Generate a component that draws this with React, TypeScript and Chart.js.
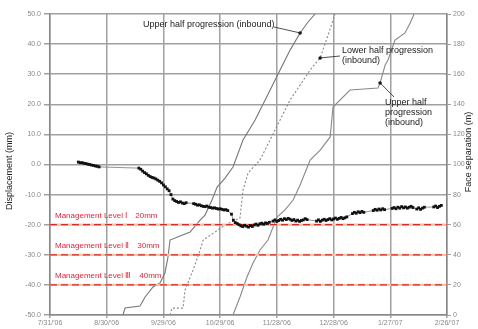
import React, { useEffect, useRef } from "react";
import { Chart, registerables } from "chart.js";

Chart.register(...registerables);

// ---- data ----
const xTickLabels = ["7/31/'06", "8/30/'06", "9/29/'06", "10/29/'06", "11/28/'06", "12/28/'06", "1/27/'07", "2/26/'07"];

const dispDays = [
  15, 16, 17, 18, 19, 20, 21, 22, 23, 24, 25, 26,
  47, 48, 49, 50, 51, 52, 53, 54, 55, 56, 57, 58, 59, 60, 61, 62, 63,
  64, 65, 66, 67, 68, 69, 70, 71, 72,
  76, 77, 78, 79, 80, 81, 82, 83, 84, 85, 86, 87, 88, 89, 90, 91, 92, 93, 94,
  96, 97, 98, 99, 100, 101, 102, 103, 104, 105, 106, 107, 108, 109, 110, 111,
  112, 113, 114, 115, 116,
  118, 119, 120, 121, 122, 123, 124, 125, 126, 127, 128, 129, 130, 131, 132, 133, 134, 135, 136,
  141, 142, 143, 144, 145, 146, 147, 148, 149, 150, 151, 152, 153, 154, 155, 156, 157,
  160, 161, 162, 163, 164, 165, 166,
  171, 172, 173, 174, 175, 176, 177,
  181, 182, 183, 184, 185, 186, 187, 188, 189, 190, 191, 192,
  194, 195, 196, 197, 198,
  203, 204, 205, 206, 207,
];
const dispValues = [
  0.8, 0.6, 0.6, 0.4, 0.3, 0.1, 0.0, -0.2, -0.3, -0.5, -0.6, -0.8,
  -1.2, -1.6, -2.2, -2.7, -3.1, -3.6, -4.0, -4.3, -4.5, -4.8, -5.2, -5.6, -6.1, -6.8, -7.4, -8.1, -8.7,
  -10.0, -11.5, -12.0, -12.3, -12.6, -12.4, -12.8, -13.0, -12.7,
  -13.0, -13.2, -13.5, -13.4, -13.7, -13.9, -14.0, -13.8, -14.2, -14.3, -14.5, -14.4, -14.6, -14.8, -14.7, -14.9, -15.1, -15.0, -15.3,
  -16.5, -18.5, -19.3, -19.6, -20.0, -20.4, -20.6, -20.2, -20.5, -20.8, -20.3, -20.6, -20.1, -19.8, -20.2, -19.7,
  -19.5, -19.8, -19.4, -19.6, -19.2,
  -18.8, -18.4, -18.9, -18.6, -18.2, -18.5, -18.0, -18.3, -17.9, -18.2, -18.6, -18.3, -18.8, -18.5, -18.9, -18.6, -18.4, -18.0, -18.3,
  -18.8, -18.4, -18.9, -18.5, -18.2, -18.6, -18.3, -18.0, -18.4, -18.1, -17.8, -18.2, -17.9, -17.6, -18.0, -17.7, -17.4,
  -16.3, -15.9, -16.2, -15.7, -16.0, -15.6, -15.9,
  -15.3, -14.9, -15.2, -14.8, -15.1, -14.7, -15.0,
  -14.6, -14.3, -14.7, -14.2, -14.5, -14.0, -14.4, -14.1, -14.5, -14.2, -13.9, -14.3,
  -14.8, -14.4, -14.9, -14.5, -14.2,
  -14.1, -13.8, -14.3, -13.9, -13.6,
];

// Upper half progression (left curve)
const upperADays = [38.6, 39.7, 47.6, 50.3, 54.5, 58.2, 60.8, 62.4, 63.5, 68.8, 74.1, 79.4, 82.0, 85.7, 88.4, 92.6, 96.8, 102.1, 108.5, 113.8, 121.7, 127.0, 132.3, 136.5, 140.2];
const upperAValues = [0, 4.6, 6, 12, 18.6, 21.3, 27.9, 38.5, 49.8, 52.5, 55.1, 63.1, 66.4, 76.4, 85.0, 91.0, 98.3, 116.3, 129.6, 142.9, 162.8, 176.0, 187.4, 194.7, 200];

// Lower half progression
const lowerDays = [63.5, 64.6, 70.4, 71.4, 75.7, 79.4, 81.0, 87.3, 92.6, 100.5, 102.1, 104.8, 111.1, 116.4, 121.7, 127.0, 132.3, 137.6, 142.9, 147.1, 150.8];
const lowerValues = [0, 4.6, 4.6, 16.6, 29.9, 43.2, 49.8, 55.1, 59.8, 64.5, 83.0, 94.4, 103.0, 116.3, 129.6, 142.9, 152.8, 162.8, 170.8, 186.0, 200];

// Upper half progression (right curve)
const upperCDays = [96.8, 100.5, 104.2, 107.4, 111.1, 115.3, 120.1, 124.3, 128.6, 132.3, 137.6, 142.9, 148.2, 149.7, 158.7, 173.5, 174.6, 177.3, 178.8, 182.5, 187.8, 190.5, 192.6];
const upperCValues = [0, 12, 25.2, 34.6, 43.2, 49.8, 65.1, 69.8, 76.4, 86.4, 103.0, 109.6, 118.3, 138.2, 149.5, 150.8, 154.2, 166.1, 169.4, 182.7, 187.4, 194.0, 200];

const mgmtLevels = [-20, -30, -40];
const mgmtLabels = ["Management Level Ⅰ\u300020mm", "Management Level Ⅱ\u300030mm", "Management Level Ⅲ\u300040mm"];

const FONT = '"Liberation Sans", Arial, sans-serif';

const pts = (xs: number[], ys: number[]) => xs.map((x, i) => ({ x, y: ys[i] }));

const annotPlugin = {
  id: "annot",
  afterDatasetsDraw(chart: any) {
    const { ctx, chartArea, scales } = chart;
    const x = scales.x, y = scales.y, y2 = scales.y2;
    ctx.save();
    // management labels
    ctx.font = `8px ${FONT}`;
    ctx.fillStyle = "#e4233c";
    ctx.textBaseline = "middle";
    ctx.textAlign = "left";
    mgmtLevels.forEach((lv, i) => {
      ctx.fillText(mgmtLabels[i], chartArea.left + 5, y.getPixelForValue(lv) - 9);
    });

    // callouts
    ctx.fillStyle = "#1a1a1a";
    ctx.font = `9px ${FONT}`;
    const callouts = [
      { lines: ["Upper half progression (inbound)"], tx: 143, ty: 25, lx: 274, ly: 27, px: upperADays[22], py: upperAValues[22] },
      { lines: ["Lower half progression", "(inbound)"], tx: 342, ty: 51, lx: 340, ly: 56, px: lowerDays[18], py: lowerValues[18] },
      { lines: ["Upper half", "progression", "(inbound)"], tx: 385, ty: 103, lx: 394, ly: 97, px: upperCDays[16], py: upperCValues[16] },
    ];
    callouts.forEach((c) => {
      c.lines.forEach((l, i) => ctx.fillText(l, c.tx, c.ty + i * 10));
      const ex = x.getPixelForValue(c.px);
      const ey = y2.getPixelForValue(c.py);
      ctx.strokeStyle = "#222";
      ctx.lineWidth = 0.8;
      ctx.beginPath();
      ctx.moveTo(c.lx, c.ly);
      ctx.lineTo(ex, ey);
      ctx.stroke();
      ctx.beginPath();
      ctx.arc(ex, ey, 1.8, 0, Math.PI * 2);
      ctx.fill();
    });

    // axis titles
    ctx.font = `9px ${FONT}`;
    ctx.fillStyle = "#222";
    ctx.textAlign = "center";
    ctx.translate(10, 171);
    ctx.rotate(-Math.PI / 2);
    ctx.fillText("Displacement (mm)", 0, 0);
    ctx.restore();
    ctx.save();
    ctx.font = `9px ${FONT}`;
    ctx.fillStyle = "#222";
    ctx.textAlign = "center";
    ctx.textBaseline = "middle";
    ctx.translate(469, 152);
    ctx.rotate(-Math.PI / 2);
    ctx.fillText("Face separation (m)", 0, 0);
    ctx.restore();
  },
};

export default function App() {
  const ref = useRef<HTMLCanvasElement>(null);
  useEffect(() => {
    document.body.style.margin = "0";
    // Chart.js draws dataset 0 last (on top), so list top-most first.
    const mgmtSets: any[] = [];
    mgmtLevels.forEach((lv) => {
      const d = [{ x: 0, y: lv }, { x: 210, y: lv }];
      mgmtSets.push({ data: d, yAxisID: "y", borderColor: "#d92a2a", borderWidth: 1.2, borderDash: [7, 4], pointRadius: 0 });
      mgmtSets.push({ data: d, yAxisID: "y", borderColor: "#f0c4a2", borderWidth: 2.2, pointRadius: 0 });
    });
    const chart = new Chart(ref.current!, {
      type: "line",
      data: {
        datasets: [
          {
            data: pts(dispDays, dispValues), yAxisID: "y", borderColor: "#777", borderWidth: 0.8,
            pointRadius: 2, pointBackgroundColor: "#111", pointBorderWidth: 0, pointStyle: "rect",
          },
          ...mgmtSets,
          { data: pts(upperADays, upperAValues), yAxisID: "y2", borderColor: "#777", borderWidth: 1.1, pointRadius: 0 },
          { data: pts(lowerDays, lowerValues), yAxisID: "y2", borderColor: "#888", borderWidth: 1.1, borderDash: [2, 2], pointRadius: 0 },
          { data: pts(upperCDays, upperCValues), yAxisID: "y2", borderColor: "#888", borderWidth: 1.1, pointRadius: 0 },
        ],
      },
      options: {
        responsive: false,
        animation: false,
        layout: { padding: { top: 14, left: 0, right: 0, bottom: 0 } },
        plugins: { legend: { display: false }, tooltip: { enabled: false } },
        scales: {
          x: {
            type: "linear", min: 0, max: 210,
            grid: { color: "#a0a0a0", lineWidth: 1.5, tickLength: 3 },
            border: { color: "#888", width: 1.5 },
            ticks: {
              stepSize: 30, maxRotation: 0, padding: 1,
              font: { size: 7, family: FONT }, color: "#888",
              callback: (v: any) => xTickLabels[Math.round(v / 30)] ?? "",
            },
            afterFit: (s: any) => { s.height = 14; },
          },
          y: {
            position: "left", min: -50, max: 50,
            grid: { color: "#a0a0a0", lineWidth: 1.5, tickLength: 6 },
            border: { color: "#888", width: 1.5 },
            ticks: { stepSize: 10, padding: 3, font: { size: 7, family: FONT }, color: "#888", callback: (v: any) => Number(v).toFixed(1) },
            afterFit: (s: any) => { s.width = 50; },
          },
          y2: {
            position: "right", min: 0, max: 200,
            grid: { drawOnChartArea: false, color: "#a0a0a0", tickLength: 4 },
            border: { color: "#888", width: 1.5 },
            ticks: { stepSize: 20, padding: 2, font: { size: 7, family: FONT }, color: "#888" },
            afterFit: (s: any) => { s.width = 31; },
          },
        },
      },
      plugins: [annotPlugin],
    } as any);
    return () => chart.destroy();
  }, []);
  return (
    <div style={{ width: 478, height: 329, background: "#fff" }}>
      <canvas ref={ref} width={478} height={329} style={{ display: "block" }} />
    </div>
  );
}
